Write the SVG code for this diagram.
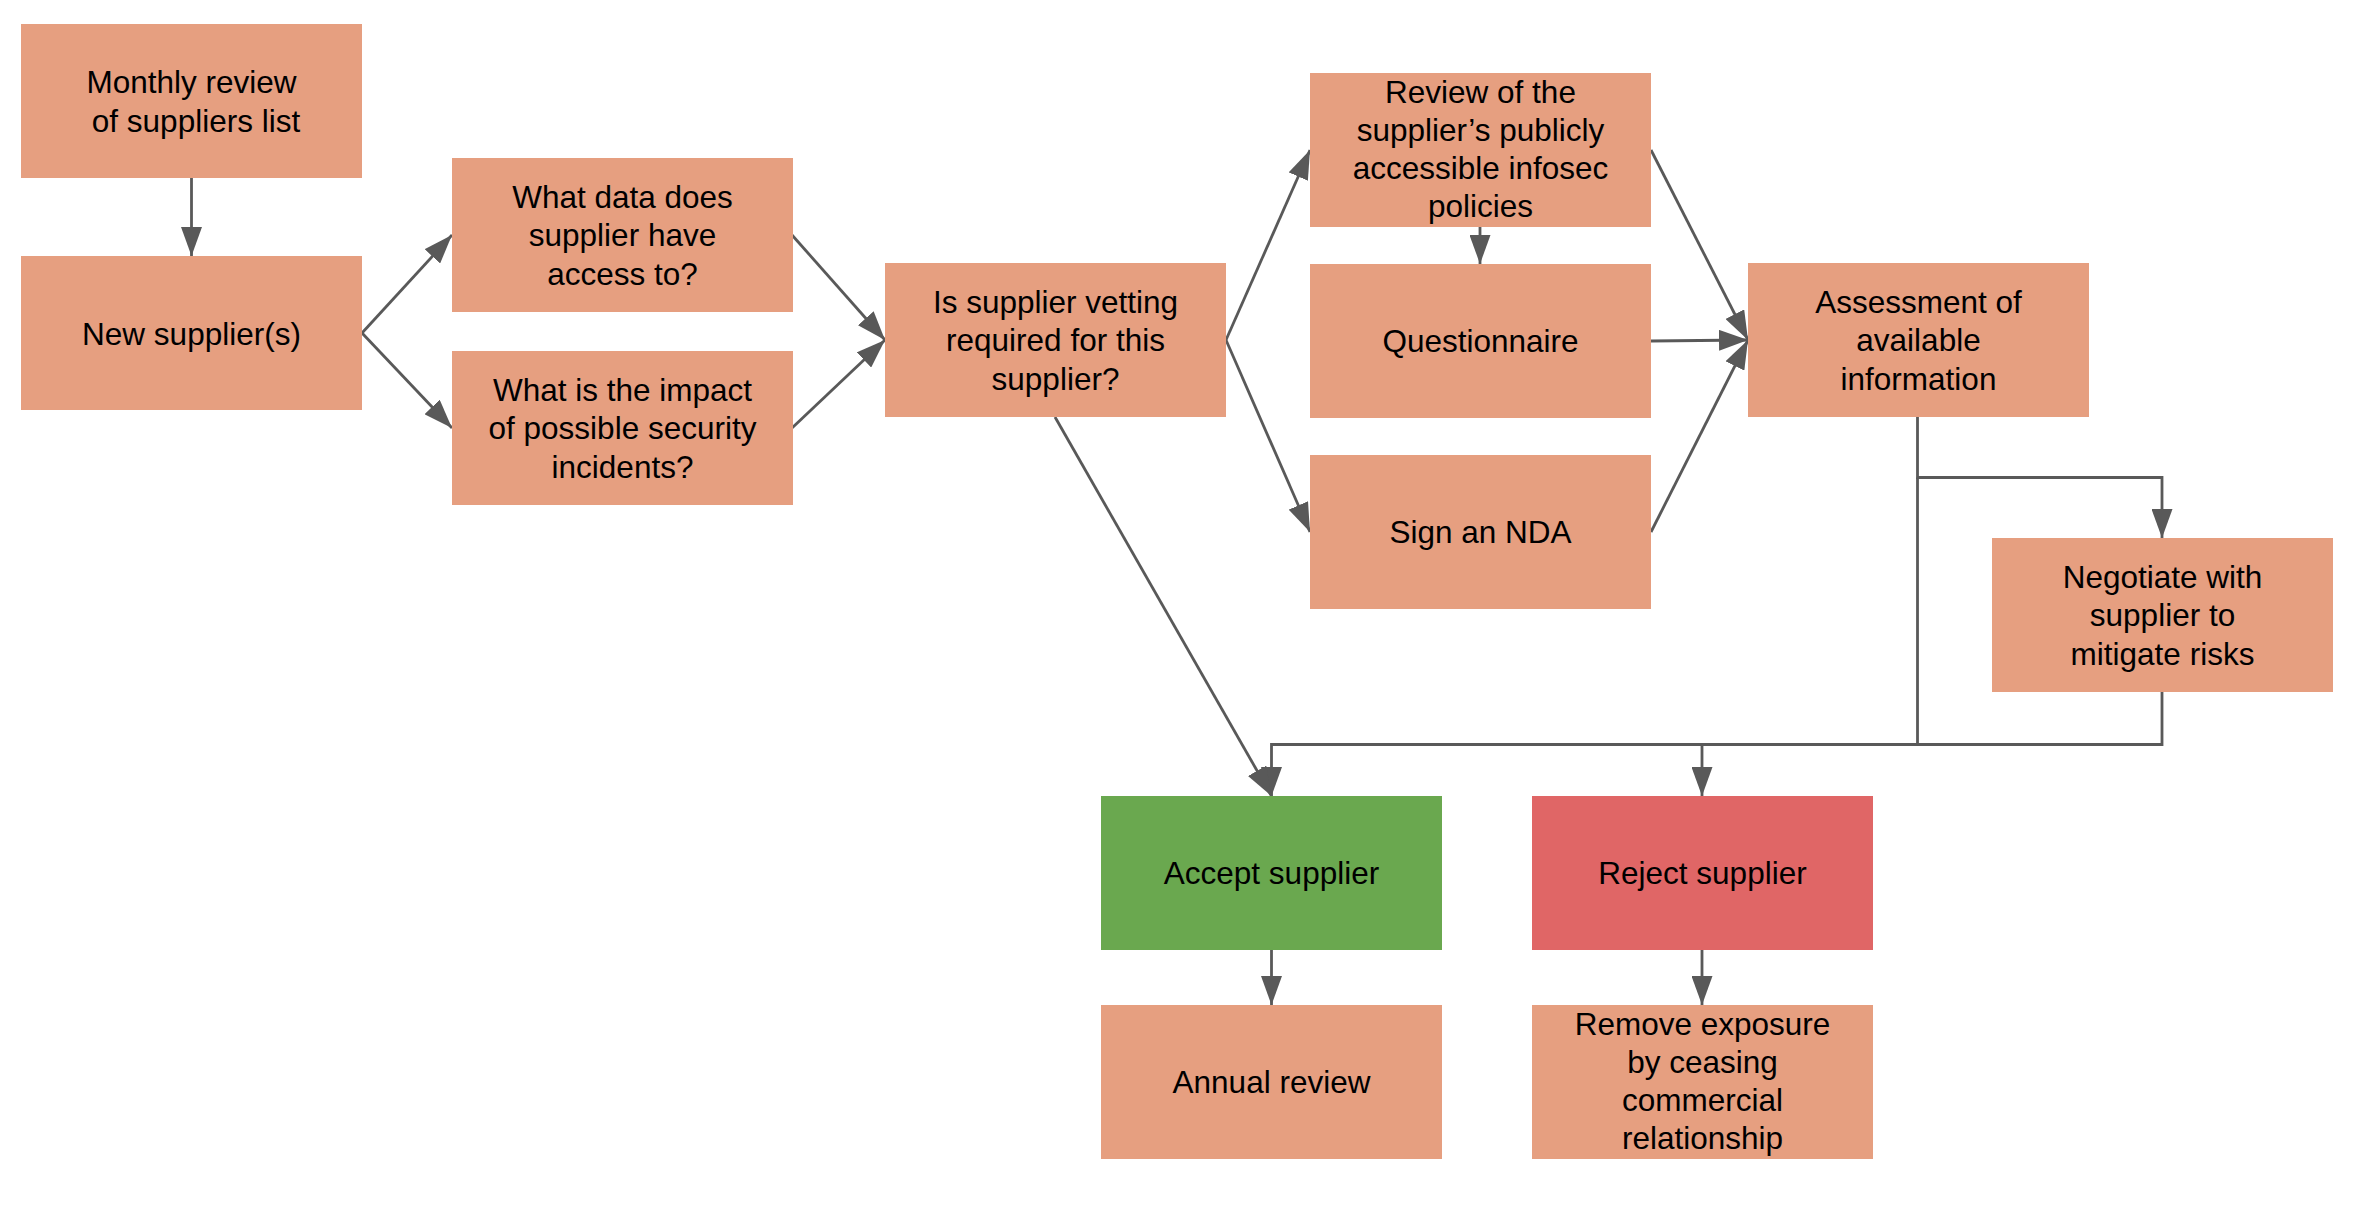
<svg xmlns="http://www.w3.org/2000/svg" width="2372" height="1206" viewBox="0 0 2372 1206">
<style>
.box{fill:#E69F80;}
.ok{fill:#6AA84F;}
.no{fill:#E06666;}
text{font-family:"Liberation Sans",Arial,sans-serif;font-size:31.5px;fill:#000;text-anchor:middle;}
.c{fill:none;stroke:#595959;stroke-width:2.8;}
</style>
<defs>
<marker id="ah" viewBox="0 0 29 21" refX="29" refY="10.5" markerWidth="29" markerHeight="21" markerUnits="userSpaceOnUse" orient="auto">
<path d="M0,0 L29,10.5 L0,21 Z" fill="#595959"/>
</marker>
</defs>
<rect width="2372" height="1206" fill="#fff"/>
<g id="connectors">
<path class="c" d="M191.5,178 V256" marker-end="url(#ah)"/>
<path class="c" d="M362,333 L452,235" marker-end="url(#ah)"/>
<path class="c" d="M362,333 L452,428" marker-end="url(#ah)"/>
<path class="c" d="M792,235 L885,340" marker-end="url(#ah)"/>
<path class="c" d="M792,428 L885,340" marker-end="url(#ah)"/>
<path class="c" d="M1226,340 L1310,150" marker-end="url(#ah)"/>
<path class="c" d="M1226,340 L1310,532" marker-end="url(#ah)"/>
<path class="c" d="M1480,227 V264" marker-end="url(#ah)"/>
<path class="c" d="M1651,150 L1748,340" marker-end="url(#ah)"/>
<path class="c" d="M1651,341 L1748,340" marker-end="url(#ah)"/>
<path class="c" d="M1651,532 L1748,340" marker-end="url(#ah)"/>
<path class="c" d="M1917.5,417 V477.5 H2162 V538" marker-end="url(#ah)"/>
<path class="c" d="M1917.5,477.5 V745"/>
<path class="c" d="M2162,692 V744.5 H1271.5 V796" marker-end="url(#ah)"/>
<path class="c" d="M1702,744.5 V796" marker-end="url(#ah)"/>
<path class="c" d="M1055,417 L1271.5,796" marker-end="url(#ah)"/>
<path class="c" d="M1271.5,950 V1005" marker-end="url(#ah)"/>
<path class="c" d="M1702,950 V1005" marker-end="url(#ah)"/>
</g>
<g id="monthly"><rect class="box" x="21" y="24" width="341" height="154"/>
<text x="191.5" y="93">Monthly review</text><text x="196" y="131.5">of suppliers list</text></g>
<g id="new-supplier"><rect class="box" x="21" y="256" width="341" height="154"/>
<text x="191.5" y="344.5">New supplier(s)</text></g>
<g id="what-data"><rect class="box" x="452" y="158" width="341" height="154"/>
<text x="622.5" y="208">What data does</text><text x="622.5" y="246.3">supplier have</text><text x="622.5" y="284.6">access to?</text></g>
<g id="impact"><rect class="box" x="452" y="351" width="341" height="154"/>
<text x="622.5" y="401">What is the impact</text><text x="622.5" y="439.3">of possible security</text><text x="622.5" y="477.6">incidents?</text></g>
<g id="vetting"><rect class="box" x="885" y="263" width="341" height="154"/>
<text x="1055.5" y="313">Is supplier vetting</text><text x="1055.5" y="351.3">required for this</text><text x="1055.5" y="389.6">supplier?</text></g>
<g id="review"><rect class="box" x="1310" y="73" width="341" height="154"/>
<text x="1480.5" y="102.5">Review of the</text><text x="1480.5" y="140.8">supplier’s publicly</text><text x="1480.5" y="179.1">accessible infosec</text><text x="1480.5" y="217.4">policies</text></g>
<g id="questionnaire"><rect class="box" x="1310" y="264" width="341" height="154"/>
<text x="1480.5" y="352">Questionnaire</text></g>
<g id="nda"><rect class="box" x="1310" y="455" width="341" height="154"/>
<text x="1480.5" y="543">Sign an NDA</text></g>
<g id="assessment"><rect class="box" x="1748" y="263" width="341" height="154"/>
<text x="1918.5" y="313">Assessment of</text><text x="1918.5" y="351.3">available</text><text x="1918.5" y="389.6">information</text></g>
<g id="negotiate"><rect class="box" x="1992" y="538" width="341" height="154"/>
<text x="2162.5" y="588">Negotiate with</text><text x="2162.5" y="626.3">supplier to</text><text x="2162.5" y="664.6">mitigate risks</text></g>
<g id="accept"><rect class="ok" x="1101" y="796" width="341" height="154"/>
<text x="1271.5" y="884">Accept supplier</text></g>
<g id="reject"><rect class="no" x="1532" y="796" width="341" height="154"/>
<text x="1702.5" y="884">Reject supplier</text></g>
<g id="annual"><rect class="box" x="1101" y="1005" width="341" height="154"/>
<text x="1271.5" y="1093">Annual review</text></g>
<g id="remove"><rect class="box" x="1532" y="1005" width="341" height="154"/>
<text x="1702.5" y="1034.5">Remove exposure</text><text x="1702.5" y="1072.8">by ceasing</text><text x="1702.5" y="1111.1">commercial</text><text x="1702.5" y="1149.4">relationship</text></g>
</svg>
